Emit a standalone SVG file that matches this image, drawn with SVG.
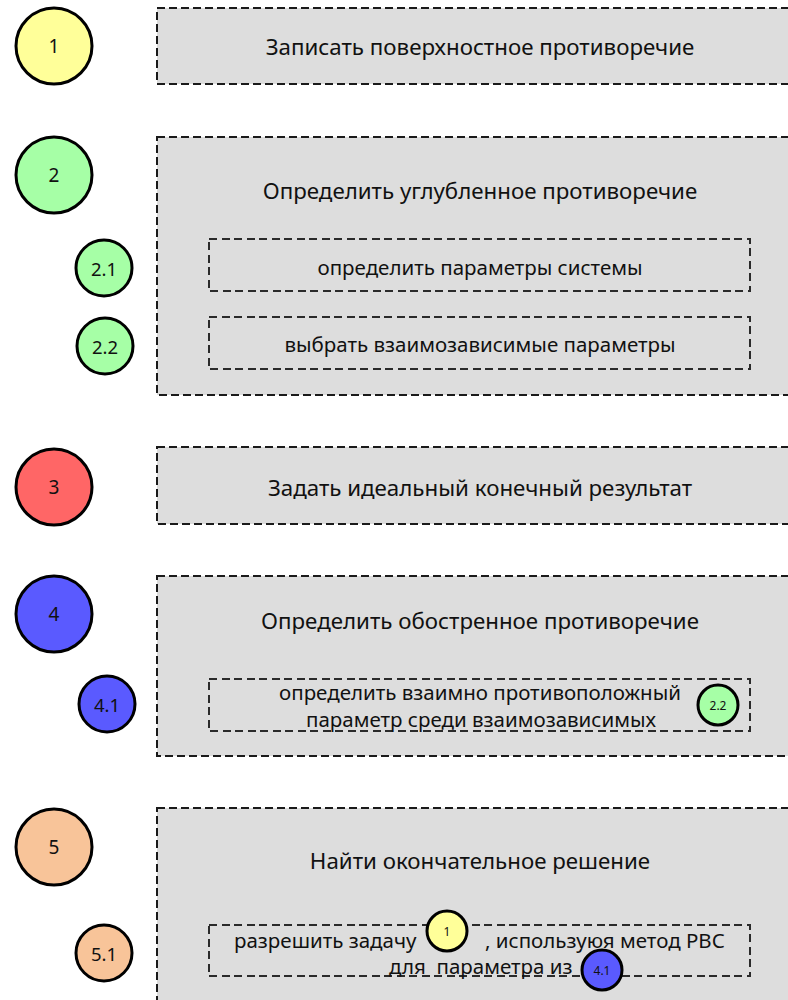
<svg xmlns="http://www.w3.org/2000/svg" width="788" height="1000" viewBox="0 0 788 1000">
<style>
text{font-family:"Noto Sans","Open Sans","DejaVu Sans",sans-serif;fill:#111;text-anchor:middle;dominant-baseline:central}
.box{fill:#dddddd;stroke:#1a1a1a;stroke-width:1.6;stroke-dasharray:8 4;shape-rendering:crispEdges}
.inner{fill:none;stroke:#2a2a2a;stroke-width:1.2;stroke-dasharray:8 4.5;shape-rendering:crispEdges}
.c{stroke:#000;stroke-width:3}
.t1{font-size:22.3px}
.t2{font-size:20.5px}
.n1{font-size:19px}
.n2{font-size:18.5px}
.n3{font-size:12px}
</style>
<g id="step1">
<rect class="box" x="157" y="8" width="650" height="76"/>
<circle class="c" cx="54" cy="46" r="38" fill="#ffff99"/>
<text class="n1" x="54" y="46">1</text>
<text class="t1" x="480" y="46">Записать поверхностное противоречие</text>
</g>
<g id="step2">
<rect class="box" x="157" y="137" width="650" height="258"/>
<circle class="c" cx="54" cy="175" r="38" fill="#a6ffa6"/>
<text class="n1" x="54" y="175">2</text>
<text class="t1" x="480" y="190">Определить углубленное противоречие</text>
</g>
<g id="step2-1">
<rect class="inner" x="209" y="239" width="541" height="52"/>
<circle class="c" cx="104" cy="268" r="28" fill="#a6ffa6"/>
<text class="n2" x="104" y="268">2.1</text>
<text class="t2" x="480" y="267">определить параметры системы</text>
</g>
<g id="step2-2">
<rect class="inner" x="209" y="317" width="541" height="52"/>
<circle class="c" cx="105" cy="346" r="28" fill="#a6ffa6"/>
<text class="n2" x="105" y="346">2.2</text>
<text class="t2" x="480" y="344">выбрать взаимозависимые параметры</text>
</g>
<g id="step3">
<rect class="box" x="157" y="447" width="650" height="77"/>
<circle class="c" cx="54" cy="487" r="38" fill="#ff6666"/>
<text class="n1" x="54" y="487">3</text>
<text class="t1" x="480" y="487">Задать идеальный конечный результат</text>
</g>
<g id="step4">
<rect class="box" x="157" y="576" width="650" height="180"/>
<circle class="c" cx="54" cy="614" r="38" fill="#5a5aff"/>
<text class="n1" x="54" y="614">4</text>
<text class="t1" x="480" y="620">Определить обостренное противоречие</text>
</g>
<g id="step4-1">
<rect class="inner" x="209" y="679" width="541" height="52"/>
<circle class="c" cx="107" cy="704" r="28" fill="#5a5aff"/>
<text class="n2" x="107" y="704">4.1</text>
<text class="t2" x="480" y="692">определить взаимно противоположный</text>
<text class="t2" x="481" y="719">параметр среди взаимозависимых</text>
<circle class="c" cx="718" cy="705" r="20" fill="#a6ffa6"/>
<text class="n3" x="718" y="705">2.2</text>
</g>
<g id="step5">
<rect class="box" x="157" y="808" width="650" height="210"/>
<circle class="c" cx="54" cy="847" r="38" fill="#f8c499"/>
<text class="n1" x="54" y="847">5</text>
<text class="t1" x="480" y="860">Найти окончательное решение</text>
</g>
<g id="step5-1">
<rect class="inner" x="209" y="925" width="541" height="51"/>
<circle class="c" cx="104" cy="953" r="28" fill="#f8c499"/>
<text class="n2" x="104" y="953">5.1</text>
<text class="t2" x="234" y="940" style="text-anchor:start">разрешить задачу</text>
<circle class="c" cx="447" cy="931" r="20" fill="#ffff99"/>
<text class="n3" x="447" y="931">1</text>
<text class="t2" x="485" y="940" style="text-anchor:start">, используюя метод РВС</text>
<text class="t2" x="389" y="966" style="text-anchor:start;white-space:pre">для  параметра из</text>
<circle class="c" cx="602" cy="970" r="20" fill="#5a5aff"/>
<text class="n3" x="602" y="970">4.1</text>
</g>
<g id="connectors"/>
</svg>
